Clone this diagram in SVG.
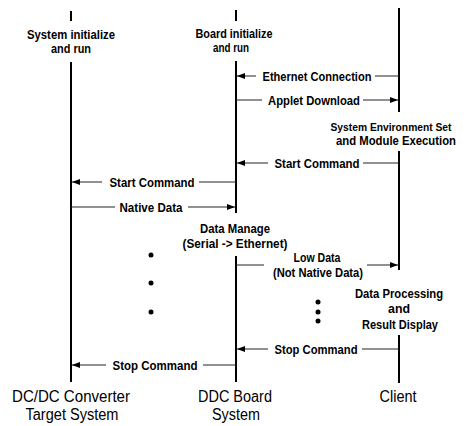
<svg xmlns="http://www.w3.org/2000/svg" width="468" height="426" viewBox="0 0 468 426">
<style>
.life{stroke:#000;stroke-width:2;fill:none}
.msg{stroke:#222;stroke-width:1;fill:none}
.lbl{font-family:"Liberation Sans",Arial,sans-serif;font-size:13px;font-weight:bold;fill:#000;text-anchor:middle}
.sm{font-size:12px}
.xs{font-size:11px}
.big{font-family:"Liberation Sans",Arial,sans-serif;font-size:16px;fill:#000;text-anchor:middle}
.dot{fill:#000}
</style>
<defs>
<marker id="ah" viewBox="0 0 8 6" refX="8" refY="3" markerWidth="8" markerHeight="6" markerUnits="userSpaceOnUse" orient="auto">
<path d="M0,0 L8,3 L0,6 z" fill="#000"/>
</marker>
</defs>
<rect width="468" height="426" fill="#fff"/>

<g id="target">
<line class="life" x1="71" y1="11" x2="71" y2="21"/>
<text class="lbl" x="71" y="39" textLength="88" lengthAdjust="spacingAndGlyphs">System initialize</text>
<text class="lbl" x="71" y="53" textLength="40" lengthAdjust="spacingAndGlyphs">and run</text>
<line class="life" x1="71" y1="62" x2="71" y2="382"/>
<text class="big" x="71" y="402" textLength="118" lengthAdjust="spacingAndGlyphs">DC/DC Converter</text>
<text class="big" x="72" y="420" textLength="93" lengthAdjust="spacingAndGlyphs">Target System</text>
</g>

<g id="board">
<line class="life" x1="236" y1="10" x2="236" y2="21"/>
<text class="lbl" x="234" y="38" textLength="77" lengthAdjust="spacingAndGlyphs">Board initialize</text>
<text class="lbl" x="231" y="52" textLength="36" lengthAdjust="spacingAndGlyphs">and run</text>
<line class="life" x1="236" y1="61" x2="236" y2="213"/>
<text class="lbl" x="235" y="233" textLength="70" lengthAdjust="spacingAndGlyphs">Data Manage</text>
<text class="lbl" x="235" y="248" textLength="105" lengthAdjust="spacingAndGlyphs">(Serial -&gt; Ethernet)</text>
<line class="life" x1="236" y1="256" x2="236" y2="382"/>
<text class="big" x="235" y="402" textLength="74" lengthAdjust="spacingAndGlyphs">DDC Board</text>
<text class="big" x="236" y="420" textLength="48" lengthAdjust="spacingAndGlyphs">System</text>
</g>

<g id="client">
<line class="life" x1="399" y1="8" x2="399" y2="112"/>
<text class="lbl xs" x="391" y="131" textLength="121" lengthAdjust="spacingAndGlyphs">System Environment Set</text>
<text class="lbl sm" x="396" y="145" textLength="120" lengthAdjust="spacingAndGlyphs">and Module Execution</text>
<line class="life" x1="399" y1="151" x2="399" y2="270"/>
<text class="lbl" x="399" y="298" textLength="88" lengthAdjust="spacingAndGlyphs">Data Processing</text>
<text class="lbl" x="399" y="313" textLength="22" lengthAdjust="spacingAndGlyphs">and</text>
<text class="lbl" x="400" y="329" textLength="76" lengthAdjust="spacingAndGlyphs">Result Display</text>
<line class="life" x1="399" y1="335" x2="399" y2="383"/>
<text class="big" x="398" y="402" textLength="37" lengthAdjust="spacingAndGlyphs">Client</text>
</g>

<g id="connectors">
<line class="msg" x1="256" y1="76" x2="237" y2="76" marker-end="url(#ah)"/>
<line class="msg" x1="375" y1="76" x2="399" y2="76"/>
<text class="lbl" x="317" y="81" textLength="109" lengthAdjust="spacingAndGlyphs">Ethernet Connection</text>

<line class="msg" x1="236" y1="100" x2="262" y2="100"/>
<line class="msg" x1="363" y1="100" x2="398" y2="100" marker-end="url(#ah)"/>
<text class="lbl" x="314" y="105" textLength="92" lengthAdjust="spacingAndGlyphs">Applet Download</text>

<line class="msg" x1="268" y1="163" x2="237" y2="163" marker-end="url(#ah)"/>
<line class="msg" x1="363" y1="163" x2="399" y2="163"/>
<text class="lbl" x="317" y="168" textLength="85" lengthAdjust="spacingAndGlyphs">Start Command</text>

<line class="msg" x1="102" y1="182" x2="72" y2="182" marker-end="url(#ah)"/>
<line class="msg" x1="199" y1="182" x2="236" y2="182"/>
<text class="lbl" x="152" y="187" textLength="85" lengthAdjust="spacingAndGlyphs">Start Command</text>

<line class="msg" x1="71" y1="207" x2="115" y2="207"/>
<line class="msg" x1="188" y1="207" x2="235" y2="207" marker-end="url(#ah)"/>
<text class="lbl" x="151" y="212" textLength="63" lengthAdjust="spacingAndGlyphs">Native Data</text>

<line class="msg" x1="236" y1="265" x2="264" y2="265"/>
<line class="msg" x1="367" y1="265" x2="398" y2="265" marker-end="url(#ah)"/>
<text class="lbl" x="317" y="262" textLength="47" lengthAdjust="spacingAndGlyphs">Low Data</text>
<text class="lbl" x="318" y="277" textLength="90" lengthAdjust="spacingAndGlyphs">(Not Native Data)</text>

<line class="msg" x1="268" y1="349" x2="237" y2="349" marker-end="url(#ah)"/>
<line class="msg" x1="362" y1="349" x2="399" y2="349"/>
<text class="lbl" x="316" y="354" textLength="83" lengthAdjust="spacingAndGlyphs">Stop Command</text>

<line class="msg" x1="106" y1="365" x2="72" y2="365" marker-end="url(#ah)"/>
<line class="msg" x1="203" y1="365" x2="236" y2="365"/>
<text class="lbl" x="155" y="370" textLength="85" lengthAdjust="spacingAndGlyphs">Stop Command</text>
</g>

<g id="ellipsis">
<circle class="dot" cx="151" cy="255" r="2.5"/>
<circle class="dot" cx="151" cy="283" r="2.5"/>
<circle class="dot" cx="151" cy="312" r="2.5"/>
<circle class="dot" cx="318" cy="302" r="2.5"/>
<circle class="dot" cx="318" cy="312" r="2.5"/>
<circle class="dot" cx="318" cy="321" r="2.5"/>
</g>
</svg>
